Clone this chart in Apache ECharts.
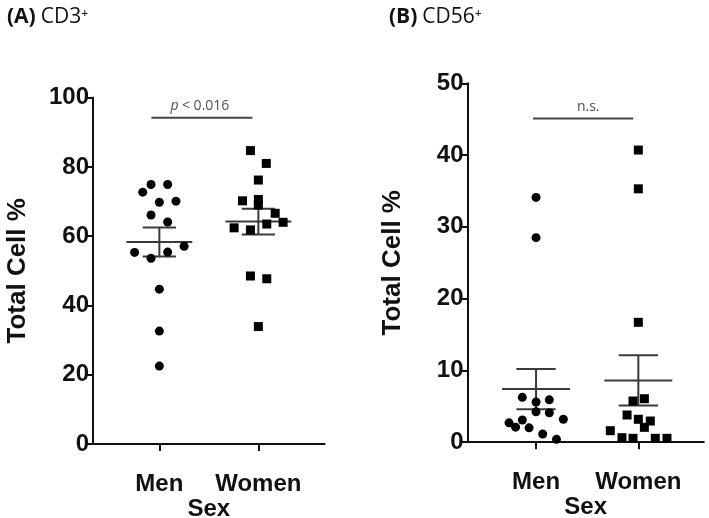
<!DOCTYPE html>
<html>
<head>
<meta charset="utf-8">
<script src="https://cdn.jsdelivr.net/npm/echarts@6/dist/echarts.min.js"></script>
<style>
html,body{margin:0;padding:0;background:#fff;}
#chart{width:709px;height:518px;}
</style>
</head>
<body>
<div id="chart"></div>
<script>
// ---------- data ----------
var categories = ['Men', 'Women'];

// Panel A: CD3+
var menA      = [72.7, 74.9, 74.9, 69.8, 70.1, 66.1, 64.1, 57.1, 55.3, 53.6, 55.4, 44.7, 32.6, 22.5];
var menAJit   = [-0.168, -0.084, 0.084, 0, 0.168, -0.084, 0.084, 0.25, -0.25, -0.084, 0.084, 0, 0, 0];
var womenA    = [84.7, 81.0, 76.2, 70.2, 70.6, 69.0, 66.6, 64.0, 63.5, 62.4, 61.8, 48.5, 47.7, 33.9];
var womenAJit = [-0.08, 0.08, 0, -0.16, 0, 0, 0.17, 0.25, 0.085, -0.245, -0.08, -0.08, 0.085, 0];
var meanA = [58.3, 64.2];
var semA  = [4.2, 3.7];

// Panel B: CD56+
var menB      = [34.1, 28.5, 6.25, 5.6, 5.9, 4.25, 4.1, 3.2, 3.1, 2.7, 2.1, 2.0, 1.15, 0.4];
var menBJit   = [0, 0, -0.134, 0, 0.13, 0, 0.13, 0.267, -0.134, -0.264, -0.2, -0.068, 0.065, 0.2];
var womenB    = [40.7, 35.3, 16.7, 5.74, 6.06, 3.79, 3.19, 2.95, 2.07, 1.6, 0.63, 0.54, 0.54, 0.54];
var womenBJit = [0, 0, 0, -0.052, 0.059, -0.11, 0, 0.117, 0.059, -0.274, -0.16, -0.052, 0.166, 0.28];
var meanB = [7.4, 8.6];
var semB  = [2.8, 3.5];

var yTicksA = [0, 20, 40, 60, 80, 100];
var yTicksB = [0, 10, 20, 30, 40, 50];

var sigA = {text: 'p < 0.016', from: 0.92, to: 1.94, y: 94.2, labelX: 1.41, labelY: 97.6};
var sigB = {text: 'n.s.', from: 0.97, to: 1.95, y: 45.1, labelX: 1.51, labelY: 46.7};

// ---------- helpers ----------
function pts(vals, jit, pos) {
  return vals.map(function (v, i) { return [pos + jit[i], v]; });
}
var FONT = 'Liberation Sans, Arial, sans-serif';
var AXCOL = '#111';
var BARCOL = '#3a3a3a';

function xAxisCfg(gi, max) {
  return {
    type: 'value', gridIndex: gi, min: 0.33, max: max,
    name: 'Sex', nameLocation: 'middle', nameGap: 53, nameMoveOverlap: false,
    nameTextStyle: {fontFamily: FONT, fontWeight: 'bold', fontSize: 24, color: '#111'},
    axisLine: {show: true, lineStyle: {color: AXCOL, width: 2}},
    axisTick: {show: true, customValues: [1, 2], length: 7, lineStyle: {color: AXCOL, width: 2}},
    axisLabel: {customValues: [1, 2], margin: 28,
      formatter: function (v) { return categories[Math.round(v) - 1]; },
      fontFamily: FONT, fontWeight: 'bold', fontSize: 24, color: '#111'},
    splitLine: {show: false}
  };
}
function yAxisCfg(gi, ticks) {
  return {
    type: 'value', gridIndex: gi, min: ticks[0], max: ticks[ticks.length - 1],
    interval: ticks[1] - ticks[0],
    name: 'Total Cell %', nameLocation: 'middle', nameGap: 62,
    nameTextStyle: {fontFamily: FONT, fontWeight: 'bold', fontSize: 26, color: '#111'},
    axisLine: {show: true, lineStyle: {color: AXCOL, width: 2}},
    axisTick: {show: true, length: 7, lineStyle: {color: AXCOL, width: 2}},
    axisLabel: {margin: 4, fontFamily: FONT, fontWeight: 'bold', fontSize: 24, color: '#111'},
    splitLine: {show: false}
  };
}
function errSeries(gi, means, sems, meanHalf, capHalf) {
  var data = means.map(function (m, i) { return [i + 1, m, sems[i]]; });
  return {
    type: 'custom', xAxisIndex: gi, yAxisIndex: gi, z: 2, silent: true,
    data: data,
    renderItem: function (params, api) {
      var x = api.value(0), m = api.value(1), s = api.value(2);
      var c = api.coord([x, m]);
      var t = api.coord([x, m + s]);
      var b = api.coord([x, m - s]);
      var mh = api.size([meanHalf, 0])[0];
      var ch = api.size([capHalf, 0])[0];
      var st = {stroke: BARCOL, lineWidth: 2};
      return {type: 'group', children: [
        {type: 'line', shape: {x1: c[0] - mh, y1: c[1], x2: c[0] + mh, y2: c[1]}, style: st},
        {type: 'line', shape: {x1: t[0], y1: t[1], x2: b[0], y2: b[1]}, style: st},
        {type: 'line', shape: {x1: t[0] - ch, y1: t[1], x2: t[0] + ch, y2: t[1]}, style: st},
        {type: 'line', shape: {x1: b[0] - ch, y1: b[1], x2: b[0] + ch, y2: b[1]}, style: st}
      ]};
    }
  };
}
function sigSeries(gi, sig, italicP) {
  return [{
    type: 'line', xAxisIndex: gi, yAxisIndex: gi, symbol: 'none', silent: true,
    data: [[sig.from, sig.y], [sig.to, sig.y]],
    lineStyle: {color: '#444', width: 2}
  }, {
    type: 'scatter', xAxisIndex: gi, yAxisIndex: gi, symbolSize: 0, silent: true,
    data: [[sig.labelX, sig.labelY]],
    label: {show: true, position: 'inside',
      formatter: italicP ? '{i|p} {n|< 0.016}' : '{n|' + sig.text + '}',
      rich: {
        i: {fontFamily: 'Open Sans, sans-serif', fontStyle: 'italic', fontSize: 14, color: '#222'},
        n: {fontFamily: 'Open Sans, sans-serif', fontSize: 14, color: '#222'}
      }}
  }];
}
function scat(gi, data, sym, size) {
  return {type: 'scatter', xAxisIndex: gi, yAxisIndex: gi, z: 5, silent: true,
    symbol: sym, symbolSize: size, data: data,
    itemStyle: {color: '#000', opacity: 1}};
}

var titleRich = {
  b: {fontFamily: 'Open Sans, sans-serif', fontWeight: 'bold', fontSize: 21, color: '#111'},
  n: {fontFamily: 'Open Sans, sans-serif', fontWeight: 'normal', fontSize: 21, color: '#111'}
};

var chart = echarts.init(document.getElementById('chart'), null, {renderer: 'canvas'});
var option = {
  backgroundColor: '#fff',
  animation: false,
  title: [
    {text: '{b|(A)} {n|CD3\u207A}', left: 2, top: 2, textStyle: {fontWeight: 'normal', rich: titleRich}},
    {text: '{b|(B)} {n|CD56\u207A}', left: 384, top: 2, textStyle: {fontWeight: 'normal', rich: titleRich}}
  ],
  grid: [
    {left: 93, top: 97.6, width: 231.7, height: 346.4, containLabel: false, outerBoundsMode: 'none'},
    {left: 467.5, top: 83.3, width: 236.3, height: 358.9, containLabel: false, outerBoundsMode: 'none'}
  ],
  xAxis: [xAxisCfg(0, 2.67), xAxisCfg(1, 2.64)],
  yAxis: [yAxisCfg(0, yTicksA), yAxisCfg(1, yTicksB)],
  series: [
    errSeries(0, meanA, semA, 0.333, 0.168),
    errSeries(1, meanB, semB, 0.332, 0.192),
    scat(0, pts(menA, menAJit, 1), 'circle', 9),
    scat(0, pts(womenA, womenAJit, 2), 'rect', 9),
    scat(1, pts(menB, menBJit, 1), 'circle', 9),
    scat(1, pts(womenB, womenBJit, 2), 'rect', 9)
  ].concat(sigSeries(0, sigA, true)).concat(sigSeries(1, sigB, false))
};
chart.setOption(option);
</script>
</body>
</html>
